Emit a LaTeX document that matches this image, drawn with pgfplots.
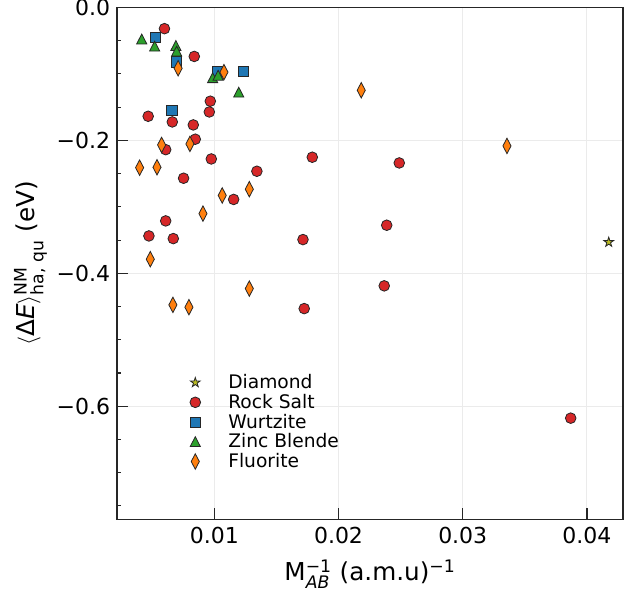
\documentclass[border=0pt]{standalone}
\usepackage{fontspec}
\setmainfont{DejaVu Sans}
\usepackage{amsmath}
\usepackage{pgfplots}
\pgfplotsset{compat=1.18}
\definecolor{tred}{HTML}{D62728}
\definecolor{tblue}{HTML}{1F77B4}
\definecolor{tgreen}{HTML}{2CA02C}
\definecolor{torange}{HTML}{FF7F0E}
\definecolor{tolive}{HTML}{BCBD22}
\pgfdeclareplotmark{fstar}{%
  \pgfpathmoveto{\pgfpointpolar{90}{\pgfplotmarksize}}%
  \pgfpathlineto{\pgfpointpolar{126}{0.382\pgfplotmarksize}}%
  \pgfpathlineto{\pgfpointpolar{162}{\pgfplotmarksize}}%
  \pgfpathlineto{\pgfpointpolar{198}{0.382\pgfplotmarksize}}%
  \pgfpathlineto{\pgfpointpolar{234}{\pgfplotmarksize}}%
  \pgfpathlineto{\pgfpointpolar{270}{0.382\pgfplotmarksize}}%
  \pgfpathlineto{\pgfpointpolar{306}{\pgfplotmarksize}}%
  \pgfpathlineto{\pgfpointpolar{342}{0.382\pgfplotmarksize}}%
  \pgfpathlineto{\pgfpointpolar{18}{\pgfplotmarksize}}%
  \pgfpathlineto{\pgfpointpolar{54}{0.382\pgfplotmarksize}}%
  \pgfpathclose
  \pgfusepathqfillstroke
}
\pgfplotsset{
  legimg/.style={only marks, legend image code/.code={%
      \path[draw=none,fill=none] (0pt,-7.4pt) rectangle (32.75pt,7.4pt);
      \draw[mark repeat=2,mark phase=2,##1] plot coordinates {(0pt,0pt)(8pt,0pt)(16pt,0pt)};}},
}
\begin{document}
\begin{tikzpicture}
\begin{axis}[
  width=379.5pt, height=383.9pt, scale only axis,
  xmin=0.00217, xmax=0.0429, ymin=-0.770, ymax=0,
  xtick={0.01,0.02,0.03,0.04}, xticklabels={0.01,0.02,0.03,0.04}, scaled x ticks=false,
  ytick={0,-0.2,-0.4,-0.6}, yticklabels={0.0,−0.2,−0.4,−0.6},
  minor ytick={-0.05,-0.1,-0.15,-0.25,-0.3,-0.35,-0.45,-0.5,-0.55,-0.65,-0.7,-0.75},
  xtick pos=bottom, ytick pos=left, tick align=inside,
  major tick length=8.5pt, minor tick length=3.3pt,
  every tick/.style={black!85, line width=0.8pt},
  grid=major, major grid style={black!8, line width=0.75pt},
  axis line style={black!85, line width=0.8pt},
  ticklabel style={font=\fontsize{16.5}{19}\selectfont},
  xticklabel style={yshift=-2.3pt},
  yticklabel style={xshift=-1.7pt},
  label style={font=\fontsize{18.5}{22}\selectfont},
  xlabel={M$^{\text{−1}}_{\textit{AB}}$ (a.m.u)$^{\text{−1}}$},
  ylabel={$\langle\text{Δ}\textit{E}\rangle^{\text{NM}}_{\text{ha, qu}}$ (eV)},
  xlabel style={at={(axis description cs:0.5,-0.1206)}, anchor=base},
  ylabel style={at={(axis description cs:-0.171,0.5)}, anchor=center},
  legend cell align=left,
  legend style={at={(axis description cs:0.1331,0.2868)}, anchor=north west,
    draw=none, fill=none, font=\fontsize{14}{16}\selectfont, inner sep=0pt,
    row sep=0pt, nodes={inner xsep=0pt, inner ysep=0.4pt}},
]
\coordinate (sw) at (rel axis cs:0,0);
\coordinate (ne) at (rel axis cs:1,1);
\addplot[legimg, mark=fstar, mark size=3.8pt, mark options={fill=tolive, draw=black!85, line width=0.6pt}]
  coordinates {(0.04175,-0.3532)};
\addlegendentry{Diamond}
\addplot[legimg, mark=*, mark size=4.0pt, mark options={fill=tred, draw=black!85, line width=0.6pt}]
  coordinates {
(0.00599,-0.0320) (0.00839,-0.0738) (0.00968,-0.1411) (0.00960,-0.1573)
(0.00468,-0.1638) (0.00662,-0.1723) (0.00831,-0.1768) (0.00847,-0.1983)
(0.00609,-0.2140) (0.00976,-0.2280) (0.00753,-0.2570) (0.01343,-0.2465)
(0.01156,-0.2889) (0.00609,-0.3212) (0.00474,-0.3438) (0.00670,-0.3478)
(0.01789,-0.2254) (0.02489,-0.2340) (0.02388,-0.3277) (0.01714,-0.3493)
(0.02368,-0.4189) (0.01724,-0.4531) (0.03869,-0.6179)
};
\addlegendentry{Rock Salt}
\addplot[legimg, mark=square*, mark size=3.8pt, mark options={fill=tblue, draw=black!85, line width=0.6pt}]
  coordinates {
(0.00525,-0.0448) (0.00697,-0.0821) (0.01024,-0.0967) (0.01233,-0.0967) (0.00659,-0.1547)
};
\addlegendentry{Wurtzite}
\addplot[legimg, mark=triangle*, mark size=4.4pt, mark options={fill=tgreen, draw=black!85, line width=0.6pt, yscale=1.12, yshift=-1pt}]
  coordinates {
(0.00416,-0.0478) (0.00520,-0.0585) (0.00691,-0.0576) (0.00697,-0.0660)
(0.00987,-0.1060) (0.01031,-0.1024) (0.01197,-0.1277)
};
\addlegendentry{Zinc Blende}
\addplot[legimg, mark=diamond*, mark size=5.8pt, mark options={fill=torange, draw=black!85, line width=0.6pt, xscale=0.7}]
  coordinates {
(0.00709,-0.0916) (0.01078,-0.0974) (0.00804,-0.2054) (0.00576,-0.2069)
(0.00399,-0.2411) (0.00539,-0.2405) (0.01064,-0.2829) (0.01282,-0.2735)
(0.00909,-0.3102) (0.00485,-0.3788) (0.01282,-0.4230) (0.00667,-0.4475)
(0.00796,-0.4510) (0.02183,-0.1247) (0.03356,-0.2084)
};
\addlegendentry{Fluorite}
\end{axis}
\pgfresetboundingbox
\path[use as bounding box] ([xshift=-87.75pt,yshift=-55.3pt]sw) rectangle ([xshift=0.75pt,yshift=5.55pt]ne);
\end{tikzpicture}
\end{document}
